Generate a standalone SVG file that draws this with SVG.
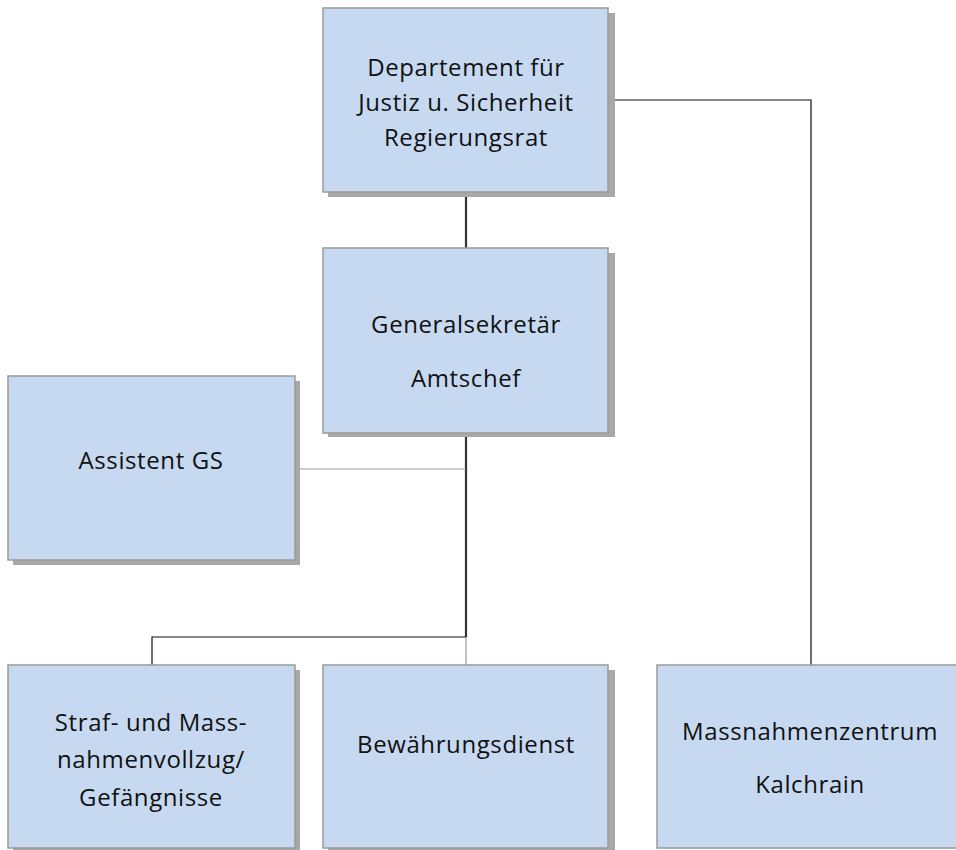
<svg xmlns="http://www.w3.org/2000/svg" width="956" height="850" viewBox="0 0 956 850">
<style>
.shadow{fill:#a8a8a8}
.box{fill:#c6d9f0;stroke:#9a9a9a;stroke-width:1.5}
.t{font-family:"Open Sans","Noto Sans",sans-serif;font-size:24px;letter-spacing:0.6px;fill:#111;text-anchor:middle}
.c{fill:none}
</style>
<g id="connectors" class="c">
<polyline points="615,100 811,100 811,665" stroke="#111" stroke-width="1.2"/>
<line x1="466" y1="197" x2="466" y2="248" stroke="#333" stroke-width="2.2"/>
<line x1="466" y1="437" x2="466" y2="637" stroke="#333" stroke-width="2.2"/>
<line x1="300" y1="469" x2="466" y2="469" stroke="#999" stroke-width="1.2"/>
<polyline points="152,665 152,637 466,637" stroke="#111" stroke-width="1.2"/>
<line x1="466" y1="637" x2="466" y2="665" stroke="#888" stroke-width="1"/>
</g>
<g id="departement">
<rect class="shadow" x="328" y="13" width="287" height="184"/>
<rect class="box" x="323" y="8" width="285" height="184"/>
<text class="t" x="466" y="76">Departement für</text>
<text class="t" x="466" y="111">Justiz u. Sicherheit</text>
<text class="t" x="466" y="146">Regierungsrat</text>
</g>
<g id="generalsekretaer">
<rect class="shadow" x="328" y="253" width="287" height="184"/>
<rect class="box" x="323" y="248" width="285" height="185"/>
<text class="t" x="466" y="333">Generalsekretär</text>
<text class="t" x="466" y="387">Amtschef</text>
</g>
<g id="assistent">
<rect class="shadow" x="13" y="381" width="287" height="184"/>
<rect class="box" x="8" y="376" width="287" height="184"/>
<text class="t" x="151" y="469">Assistent GS</text>
</g>
<g id="straf">
<rect class="shadow" x="13" y="670" width="287" height="184"/>
<rect class="box" x="8" y="665" width="287" height="183"/>
<text class="t" x="151" y="731">Straf- und Mass-</text>
<text class="t" x="151" y="768">nahmenvollzug/</text>
<text class="t" x="151" y="806">Gefängnisse</text>
</g>
<g id="bewaehrung">
<rect class="shadow" x="328" y="670" width="287" height="184"/>
<rect class="box" x="323" y="665" width="285" height="183"/>
<text class="t" x="466" y="753">Bewährungsdienst</text>
</g>
<g id="massnahmen">
<rect class="box" x="657" y="665" width="310" height="183"/>
<text class="t" x="810" y="740">Massnahmenzentrum</text>
<text class="t" x="810" y="793">Kalchrain</text>
</g>
</svg>
